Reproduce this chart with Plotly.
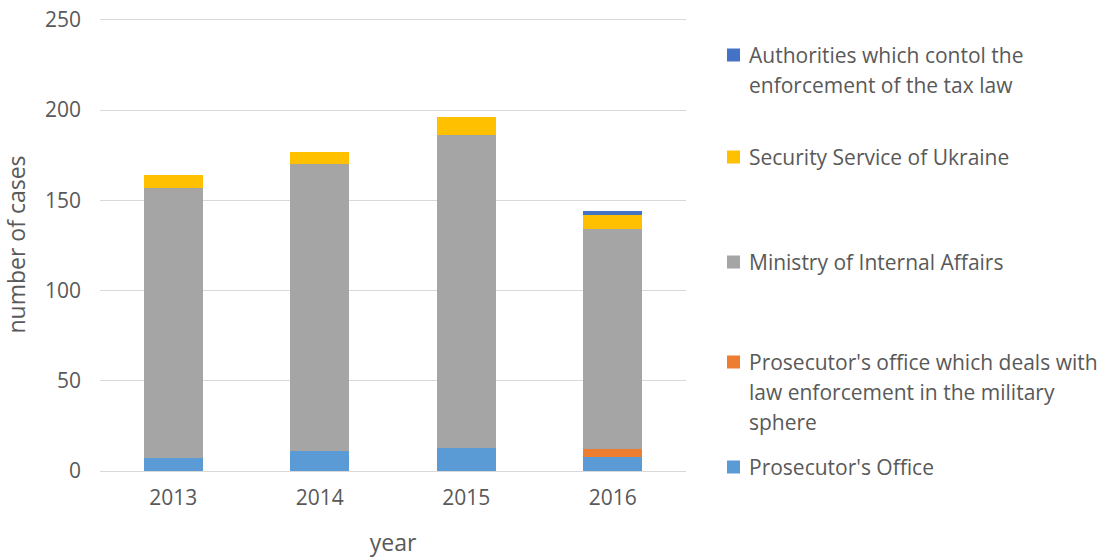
import plotly.graph_objects as go

years = ["2013", "2014", "2015", "2016"]
prosecutor = [7, 11, 13, 8]
military = [0, 0, 0, 4]
ministry = [150, 159, 173, 122]
ssu = [7, 7, 10, 8]
tax = [0, 0, 0, 2]

series_names = [
    "Prosecutor's Office",
    "Prosecutor's office which deals with law enforcement in the military sphere",
    "Ministry of Internal Affairs",
    "Security Service of Ukraine",
    "Authorities which contol the enforcement of the tax law",
]
series_values = [prosecutor, military, ministry, ssu, tax]
colors = ["#5B9BD5", "#ED7D31", "#A5A5A5", "#FFC000", "#4472C4"]

# legend labels as displayed (wrapped), top to bottom
legend_lines = [
    ["Authorities which contol the", "enforcement of the tax law"],
    ["Security Service of Ukraine"],
    ["Ministry of Internal Affairs"],
    ["Prosecutor's office which deals with", "law enforcement in the military", "sphere"],
    ["Prosecutor's Office"],
]
legend_colors = ["#4472C4", "#FFC000", "#A5A5A5", "#ED7D31", "#5B9BD5"]
legend_first_y = [55, 157, 262, 362, 467]

FONT = "Open Sans"
TXT = "#595959"
W, H = 1105, 558
L, T = 100, 18
R = W - 686
B = H - 471
PW, PH = W - L - R, H - T - B

fig = go.Figure()
for name, vals, c in zip(series_names, series_values, colors):
    fig.add_trace(go.Bar(x=years, y=vals, name=name, marker=dict(color=c, line=dict(width=0)),
                         showlegend=False))

annotations = []
shapes = []
for lines, c, y0 in zip(legend_lines, legend_colors, legend_first_y):
    for i, line in enumerate(lines):
        yp = y0 + i * 30
        annotations.append(dict(text=line, xref="paper", yref="paper",
                                x=(747 - L) / PW, y=(H - B - yp) / PH,
                                xanchor="left", yanchor="middle", showarrow=False,
                                font=dict(family=FONT, size=21, color=TXT)))
    shapes.append(dict(type="rect", xref="paper", yref="paper",
                       x0=(727 - L) / PW, x1=(740 - L) / PW,
                       y0=(H - B - (y0 + 6.5)) / PH, y1=(H - B - (y0 - 6.5)) / PH,
                       fillcolor=c, line=dict(width=0)))

fig.update_layout(
    barmode="stack",
    bargap=0.6,
    width=W, height=H,
    margin=dict(l=L, r=R, t=T, b=B, autoexpand=False),
    plot_bgcolor="white", paper_bgcolor="white",
    font=dict(family=FONT, size=21, color=TXT),
    annotations=annotations,
    shapes=shapes,
    xaxis=dict(title=dict(text="year", standoff=24, font=dict(size=23)),
               showline=True, linecolor="#d9d9d9", linewidth=1,
               ticks="", ticklabelstandoff=8, automargin=False),
    yaxis=dict(title=dict(text="number of cases", standoff=13, font=dict(size=23)),
               range=[0, 251], tickvals=[0, 50, 100, 150, 200, 250],
               showgrid=True, gridcolor="#d9d9d9", ticklabeloverflow="allow",
               zeroline=False, ticks="", ticklabelstandoff=18, automargin=False),
)
fig.write_html("out.html", config={"displayModeBar": False},
               post_script="document.body.style.margin='0';document.body.style.overflow='hidden';")
